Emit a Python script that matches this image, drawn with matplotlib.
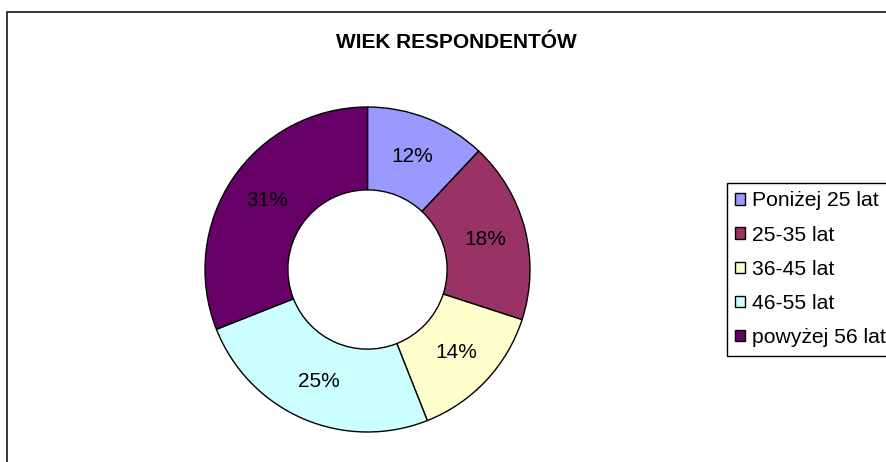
import matplotlib.pyplot as plt
from matplotlib.patches import Rectangle

plt.rcParams['font.family'] = ['Liberation Sans', 'DejaVu Sans']

# data
categories = ['Poniżej 25 lat', '25-35 lat', '36-45 lat', '46-55 lat', 'powyżej 56 lat']
shares = [12, 18, 14, 25, 31]
colors = ['#9999FF', '#993366', '#FFFFCC', '#CCFFFF', '#660066']
title = 'WIEK RESPONDENTÓW'

W, H = 887, 462
fig = plt.figure(figsize=(W / 100, H / 100), dpi=100)
fig.patch.set_facecolor('white')

# outer chart frame (right/bottom edges fall off the image)
fig.patches.append(Rectangle((7 / W, -0.1), 1.2, (H - 12) / H + 0.1,
                             transform=fig.transFigure, fill=False,
                             edgecolor='black', linewidth=1.1))

# donut
ax = fig.add_axes([205 / W, (H - 432) / H, 325 / W, 325 / H])
wedges, texts, autotexts = ax.pie(
    shares, colors=colors, startangle=90, counterclock=False, radius=1,
    autopct=lambda p: f'{p:.0f}%', pctdistance=0.75,
    wedgeprops=dict(width=0.51, edgecolor='black', linewidth=1.0),
    textprops=dict(fontsize=15, color='black'))
ax.set_xlim(-1, 1)
ax.set_ylim(-1, 1)
ax.set_aspect('equal')
ax.axis('off')

fig.text(456 / W, 1 - 42 / H, title, ha='center', va='center',
         fontsize=15, fontweight='bold')

leg = fig.legend(wedges, categories, loc='upper left',
                 bbox_to_anchor=(727 / W, 1 - 183 / H),
                 fontsize=15.2, frameon=True, fancybox=False,
                 edgecolor='black', framealpha=1,
                 handlelength=0.45, handleheight=0.45, handletextpad=0.35,
                 labelspacing=0.72, borderpad=0.4, borderaxespad=0)
leg.get_frame().set_linewidth(1.0)

fig.savefig('out.png', dpi=100)
